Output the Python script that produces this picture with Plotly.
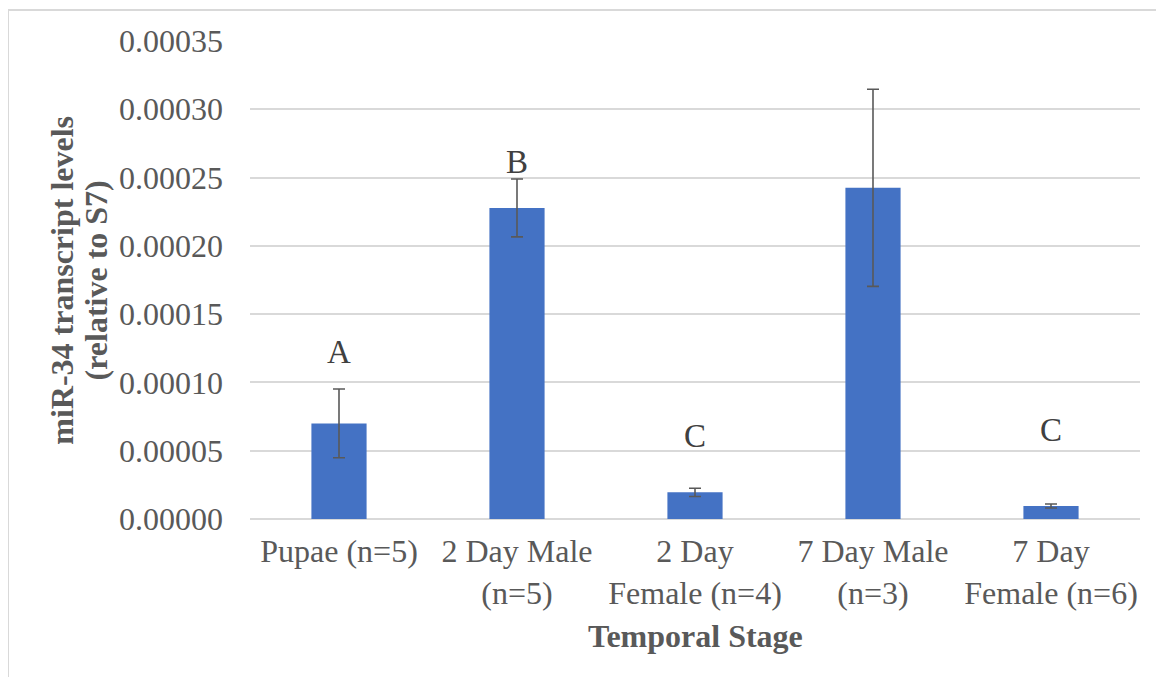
import plotly.graph_objects as go

categories = ["Pupae (n=5)", "2 Day Male<br>(n=5)", "2 Day<br>Female (n=4)", "7 Day Male<br>(n=3)", "7 Day<br>Female (n=6)"]
values = [0.0000700, 0.0002278, 0.0000195, 0.0002425, 0.0000095]
errors = [0.0000252, 0.0000212, 0.0000030, 0.0000722, 0.0000015]
letters = ["A", "B", "C", "B", "C"]
letter_y = [0.0001222, 0.0002613, 0.0000608, 0.0003530, 0.0000650]
y_ticks = [0, 0.00005, 0.00010, 0.00015, 0.00020, 0.00025, 0.00030, 0.00035]

FONT = "Liberation Serif, Times New Roman, serif"
TXT = "#595959"

fig = go.Figure()
fig.add_trace(go.Bar(
    x=categories, y=values, width=0.31,
    marker=dict(color="#4472C4", line=dict(width=0)),
    error_y=dict(type="data", array=errors, visible=True, color="#595959", thickness=1.6, width=6),
))

for c, l, ly in zip(categories, letters, letter_y):
    fig.add_annotation(x=c, y=ly, text=l, showarrow=False, xref="x", yref="y",
                       font=dict(family=FONT, size=33, color="#404040"))

fig.add_annotation(x=-0.2115, y=0.5, xref="paper", yref="paper", textangle=-90,
                   xanchor="center", yanchor="middle",
                   text="<b>miR-34 transcript levels</b>", showarrow=False,
                   font=dict(family=FONT, size=32, color=TXT))
fig.add_annotation(x=-0.1725, y=0.5, xref="paper", yref="paper", textangle=-90,
                   xanchor="center", yanchor="middle",
                   text="<b>(relative to S7)</b>", showarrow=False,
                   font=dict(family=FONT, size=32, color=TXT))
fig.add_annotation(x=0.5, y=-0.245, xref="paper", yref="paper", yanchor="middle",
                   text="<b>Temporal Stage</b>", showarrow=False,
                   font=dict(family=FONT, size=32, color=TXT))

fig.add_shape(type="rect", xref="paper", yref="paper", x0=-0.2719, x1=1.04, y0=-0.36, y1=1.0649,
              line=dict(color="#d9d9d9", width=2), fillcolor="rgba(0,0,0,0)", layer="below")

fig.update_layout(
    width=1164, height=677,
    margin=dict(l=242, r=32, t=33, b=166),
    paper_bgcolor="white", plot_bgcolor="white",
    showlegend=False,
    font=dict(family=FONT, size=32, color=TXT),
)
fig.update_xaxes(showline=False, showgrid=False, ticks="", tickfont=dict(size=32, color=TXT),
                 ticklabelstandoff=10, automargin=False)
fig.update_yaxes(range=[0, 0.00035], tickvals=y_ticks, tickformat=".5f",
                 showgrid=True, gridcolor="#d9d9d9", gridwidth=1.5, zeroline=True,
                 zerolinecolor="#d9d9d9", zerolinewidth=1.5, showline=False, ticks="",
                 tickfont=dict(size=32, color=TXT), ticklabelstandoff=26, automargin=False)

fig.write_html("out.html")
